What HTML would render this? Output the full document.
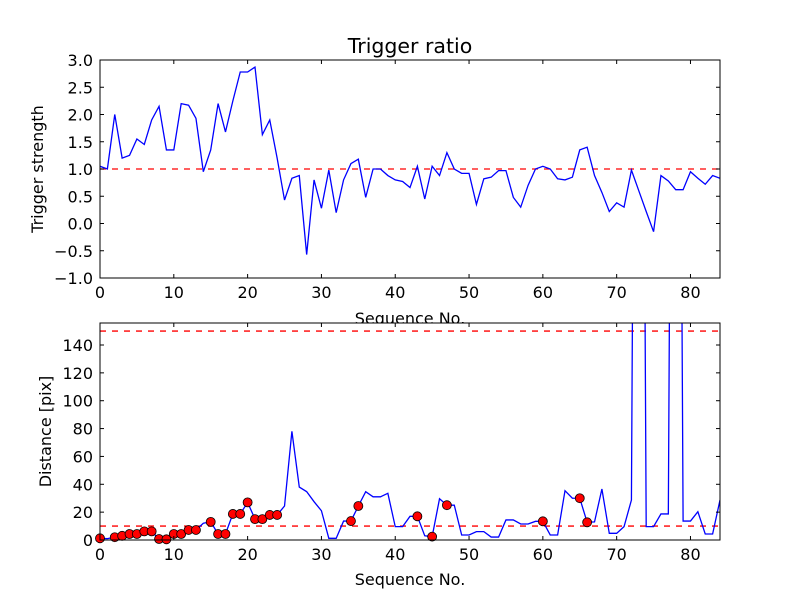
<!DOCTYPE html>
<html><head><meta charset="utf-8"><style>
body{margin:0;background:#fff;}
svg{display:block;font-family:"DejaVu Sans","Liberation Sans",sans-serif;}
</style></head><body>
<svg id="c" width="800" height="600" viewBox="0 0 800 600"></svg>
<script>
const seqIndex = Array.from({length:85},(_,i)=>i);
const triggerStrength = [1.05,1.0,2.0,1.2,1.25,1.55,1.45,1.9,2.15,1.35,1.35,2.2,2.17,1.93,0.95,1.35,2.2,1.68,2.25,2.78,2.78,2.87,1.63,1.9,1.2,0.43,0.83,0.88,-0.57,0.8,0.28,0.98,0.2,0.8,1.1,1.18,0.48,1.0,1.0,0.88,0.8,0.77,0.66,1.05,0.45,1.05,0.88,1.3,1.0,0.92,0.92,0.35,0.82,0.85,0.97,0.97,0.48,0.3,0.7,1.0,1.05,1.0,0.82,0.8,0.85,1.35,1.4,0.88,0.57,0.22,0.38,0.3,0.98,0.6,0.22,-0.15,0.88,0.78,0.62,0.62,0.95,0.83,0.72,0.88,0.83];
const distance = [1.2,1,2,3,4.3,4.3,6.2,6.2,0.7,0.5,4.3,4.3,7.2,7.2,12,13,4.3,4.3,18.7,18.7,27,15,15,18,18,24.4,78,38,34.7,27.5,21,1.2,1.2,13.6,13.6,24.4,34.7,31,31,33.5,9.6,9.6,17,17,3,2.4,29.6,25,25,3.6,3.6,6,6,2.1,2.1,14.4,14.4,11.5,11.5,13.4,13.4,3.6,3.6,35.4,30,30,12.7,13,36.6,4.8,4.8,9.6,28.7,1000,9.6,9.6,18.7,18.7,1000,13.6,13.6,20.3,4.3,4.3,28.7];
const markedIdx = [0,2,3,4,5,6,7,8,9,10,11,12,13,15,16,17,18,19,20,21,22,23,24,34,35,43,45,47,60,65,66];
const topThreshold = [1.0];
const distThresholds = [10,150];
const xTicks = [0,10,20,30,40,50,60,70,80];
const topYTicks = [-1,-0.5,0,0.5,1,1.5,2,2.5,3];
const botYTicks = [0,20,40,60,80,100,120,140];

const svg=document.getElementById('c');
const NS='http://www.w3.org/2000/svg';
function mk(tag,attrs,parent){const e=document.createElementNS(NS,tag);for(const k in attrs)e.setAttribute(k,attrs[k]);(parent||svg).appendChild(e);return e;}
const L=100,R=720,xmin=0,xmax=84;
const sx=v=>L+(v-xmin)/(xmax-xmin)*(R-L);
function fmt(v,d){const s=Math.abs(v).toFixed(d);return (v<0?'\u2212':'')+s;}

function panel(id,top,bot,ymin,ymax,yTicks,dec,ylabel){
  const sy=v=>bot-(v-ymin)/(ymax-ymin)*(bot-top);
  const g=mk('g',{});
  
  
  mk('rect',{x:L,y:top,width:R-L,height:bot-top,fill:'#fff'},g);
  const cp=mk('clipPath',{id:id+'-clip'},g);
  mk('rect',{x:L,y:top,width:R-L,height:bot-top},cp);
  return {g,sy,top,bot,ymin,ymax,yTicks,dec,ylabel,id};
}
function finish(p,xlabelY){
  const g=p.g;
  const frame=mk('rect',{x:L,y:p.top,width:R-L,height:p.bot-p.top,fill:'none',stroke:'#000','stroke-width':1},g);
  
  
  xTicks.forEach(t=>{const x=sx(t);
    mk('line',{x1:x,x2:x,y1:p.bot,y2:p.bot-4,stroke:'#000'},g);
    mk('line',{x1:x,x2:x,y1:p.top,y2:p.top+4,stroke:'#000'},g);
    const tx=mk('text',{x:x,y:p.bot+20,'text-anchor':'middle','font-size':16},g);tx.textContent=t;
    
    
  });
  p.yTicks.forEach(t=>{const y=p.sy(t);
    mk('line',{x1:L,x2:L+4,y1:y,y2:y,stroke:'#000'},g);
    mk('line',{x1:R,x2:R-4,y1:y,y2:y,stroke:'#000'},g);
    const tx=mk('text',{x:L-7,y:y+6,'text-anchor':'end','font-size':16},g);tx.textContent=fmt(t,p.dec);
    
    
  });
  const yl=mk('text',{x:0,y:0,'text-anchor':'middle','font-size':16,transform:`translate(${p.id==='top'?43:51},${(p.top+p.bot)/2}) rotate(-90)`},g);
  yl.textContent=p.ylabel;
  
  
  const xl=mk('text',{x:(L+R)/2,y:xlabelY,'text-anchor':'middle','font-size':16},g);
  xl.textContent='Sequence No.';
  
  
}

const P1=panel('top',60,278,-1,3,topYTicks,1,'Trigger strength');
const t=mk('text',{x:410,y:53,'text-anchor':'middle','font-size':20.5});
t.textContent='Trigger ratio';


const cg1=mk('g',{'clip-path':'url(#top-clip)'},P1.g);
topThreshold.forEach(v=>{const l=mk('line',{x1:L,x2:R,y1:P1.sy(v),y2:P1.sy(v),stroke:'#f00','stroke-width':1.3,'stroke-dasharray':'6,6'},cg1);
  
  });
const l1=mk('polyline',{points:seqIndex.map((x,i)=>sx(x)+','+P1.sy(triggerStrength[i])).join(' '),fill:'none',stroke:'#00f','stroke-width':1.3},cg1);


finish(P1,324);

const P2=panel('bot',323,540,0,155.8,botYTicks,0,'Distance [pix]');
const cg2=mk('g',{'clip-path':'url(#bot-clip)'},P2.g);
distThresholds.forEach(v=>{const l=mk('line',{x1:L,x2:R,y1:P2.sy(v),y2:P2.sy(v),stroke:'#f00','stroke-width':1.3,'stroke-dasharray':'6,6'},cg2);
  
  });
const l2=mk('polyline',{points:seqIndex.map((x,i)=>sx(x)+','+P2.sy(distance[i])).join(' '),fill:'none',stroke:'#00f','stroke-width':1.3},cg2);


markedIdx.forEach(i=>{const c=mk('circle',{cx:sx(seqIndex[i]),cy:P2.sy(distance[i]),r:4.5,fill:'#f00',stroke:'#000','stroke-width':0.8},P2.g);
  
  });
finish(P2,585);
</script>
</body></html>
